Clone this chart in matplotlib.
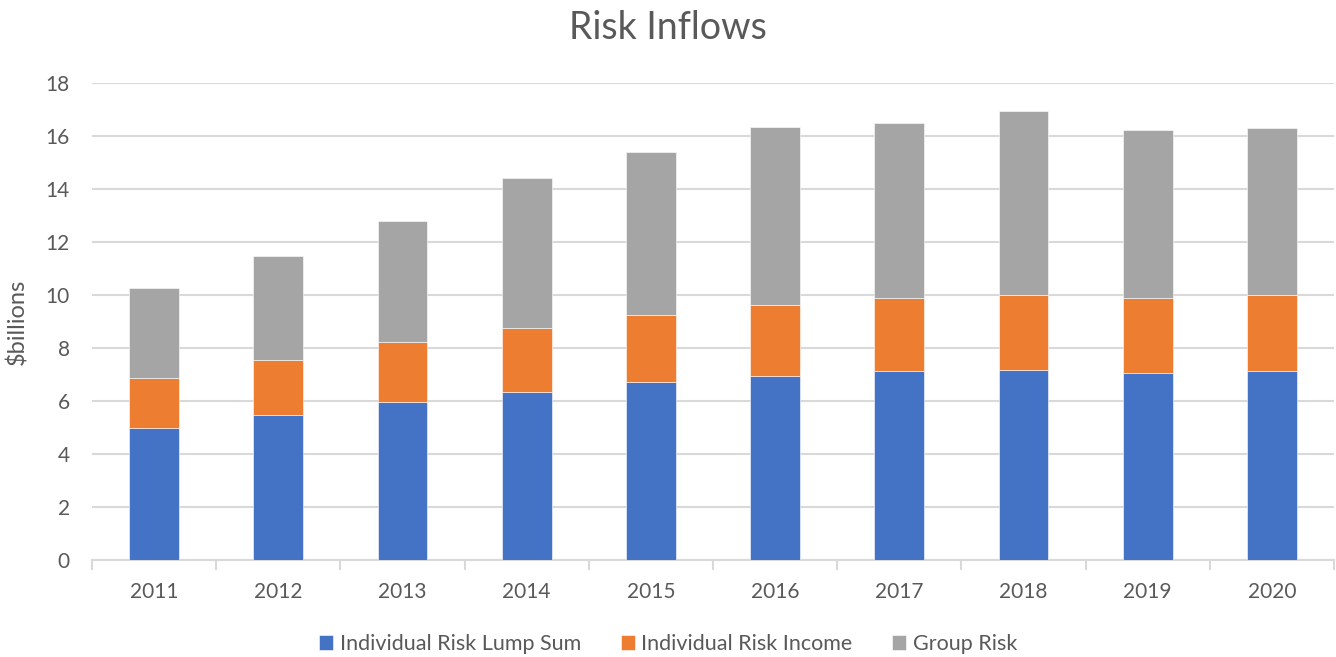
import matplotlib
matplotlib.use("Agg")
import matplotlib.pyplot as plt
import numpy as np

years = ["2011", "2012", "2013", "2014", "2015", "2016", "2017", "2018", "2019", "2020"]
lump_sum = [4.97, 5.48, 5.95, 6.35, 6.71, 6.95, 7.12, 7.17, 7.05, 7.12]
income_top = [6.87, 7.56, 8.22, 8.75, 9.25, 9.62, 9.90, 10.00, 9.90, 10.00]
total = [10.27, 11.47, 12.78, 14.42, 15.38, 16.34, 16.49, 16.94, 16.21, 16.32]
income = [round(b - a, 2) for a, b in zip(lump_sum, income_top)]
group = [round(c - b, 2) for b, c in zip(income_top, total)]

series_names = ["Individual Risk Lump Sum", "Individual Risk Income", "Group Risk"]
colors = ["#4472C4", "#ED7D31", "#A5A5A5"]

plt.rcParams['font.family'] = ['Lato', 'DejaVu Sans']
text_color = "#595959"

fig = plt.figure(figsize=(13.36, 6.57), dpi=100)
ax = fig.add_axes([92/1336, 1-560/657, (1334-92)/1336, (560-83)/657])

x = np.arange(len(years))
w = 0.4
b1 = ax.bar(x, lump_sum, w, color=colors[0], edgecolor="white", linewidth=0.4, label=series_names[0], zorder=3)
b2 = ax.bar(x, income, w, bottom=lump_sum, color=colors[1], edgecolor="white", linewidth=0.4, label=series_names[1], zorder=3)
b3 = ax.bar(x, group, w, bottom=income_top, color=colors[2], edgecolor="white", linewidth=0.4, label=series_names[2], zorder=3)

ax.set_xlim(-0.5, len(years) - 0.5)
ax.set_ylim(0, 18)
ax.set_yticks(np.arange(0, 19, 2))
ax.yaxis.grid(True, color="#D9D9D9", linewidth=1.5, zorder=0)
ax.set_axisbelow(True)

for s in ["top", "right", "left"]:
    ax.spines[s].set_visible(False)
ax.spines["bottom"].set_color("#D9D9D9")
ax.spines["bottom"].set_linewidth(1.5)

ax.set_xticks(x)
ax.set_xticklabels(years)
ax.tick_params(axis="x", length=0, pad=16, labelsize=15, labelcolor=text_color)
ax.tick_params(axis="y", length=0, pad=16, labelsize=15, labelcolor=text_color)
# category boundary ticks
ax.set_xticks(np.arange(-0.5, len(years), 1.0), minor=True)
ax.tick_params(axis="x", which="minor", length=7, width=1.5, color="#D9D9D9")

ax.set_ylabel("$billions", fontsize=17, color=text_color)
ax.yaxis.set_label_coords(-0.051, 0.5)

fig.suptitle("Risk Inflows", fontsize=27, color=text_color, y=0.985)

leg = fig.legend(handles=[b1, b2, b3], labels=series_names, loc="center",
                 bbox_to_anchor=(0.5, 1-644/657), ncol=3, frameon=False,
                 fontsize=15.5, handlelength=0.65, handleheight=0.65,
                 handletextpad=0.3, columnspacing=1.85)
for t in leg.get_texts():
    t.set_color(text_color)

fig.savefig("out.png", dpi=100)
